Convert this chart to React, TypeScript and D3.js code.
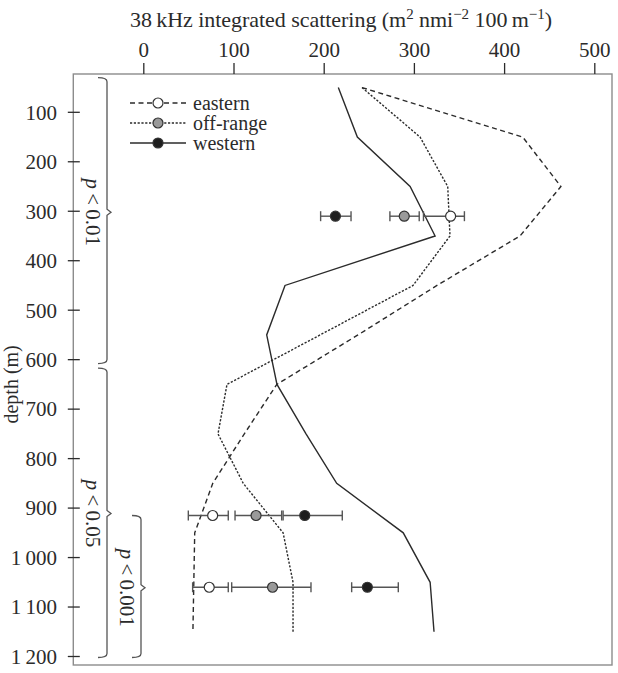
import React, { useRef, useEffect } from "react";
import * as d3 from "d3";

// depth bins (m) for the three profiles
const depths = [50, 150, 250, 350, 450, 550, 650, 750, 850, 950, 1050, 1150];
const eastern = [242.5, 420.6, 463, 417.6, 325.6, 238, 148, 112, 77, 57, 56, 55];
const offRange = [242.5, 306.8, 337.5, 340, 299, 196, 92.8, 82.8, 110.8, 155, 166, 166];
const western = [216.2, 237.3, 295.8, 323.5, 157.1, 136.8, 148.2, 180.4, 214.4, 288.2, 318, 322.3];

// means with error bars, one per depth band
const bandDepths = [310, 915, 1060];
const easternMean = [340.7, 76.9, 73.1];
const easternLow = [310.6, 49.9, 54.7];
const easternHigh = [356, 94.2, 94.2];
const offMean = [289.3, 125, 143.3];
const offLow = [273.4, 101.7, 98];
const offHigh = [305.9, 153.4, 185.9];
const westernMean = [213, 179, 248.4];
const westernLow = [196.6, 155, 231];
const westernHigh = [230.3, 220.6, 282.7];

const xTicks = [0, 100, 200, 300, 400, 500];
const yTicks = [100, 200, 300, 400, 500, 600, 700, 800, 900, 1000, 1100, 1200];

// significance braces (depth ranges)
const braceLabels = ["0.01", "0.05", "0.001"];
const braceFrom = [30, 617, 915];
const braceTo = [608, 1202, 1202];
const braceMid = [302, 911, 1061];

const seriesNames = ["eastern", "off-range", "western"];

const App: React.FC = () => {
  const svgRef = useRef<SVGSVGElement | null>(null);
  const width = 618;
  const height = 673;

  useEffect(() => {
    if (!svgRef.current) return;
    const svg = d3.select(svgRef.current);
    svg.selectAll("*").remove();

    const font = "'Liberation Serif', 'Times New Roman', serif";
    const ink = "#2b2b2b";
    const fs = "21px";

    const x = d3.scaleLinear().domain([0, 500]).range([143.3, 594.3]);
    const y = d3.scaleLinear().domain([100, 1200]).range([112.3, 656.5]);

    const frame = { left: 73.3, right: 612, top: 74, bottom: 665 };

    // frame
    svg
      .append("rect")
      .attr("x", frame.left)
      .attr("y", frame.top)
      .attr("width", frame.right - frame.left)
      .attr("height", frame.bottom - frame.top)
      .attr("fill", "none")
      .attr("stroke", "#8c8c8c")
      .attr("stroke-width", 1.4);

    // top axis
    const xAxis = svg
      .append("g")
      .attr("transform", `translate(0,${frame.top})`)
      .call(d3.axisTop(x).tickValues(xTicks).tickSize(11).tickPadding(6));
    xAxis.select(".domain").remove();
    xAxis.selectAll("line").attr("stroke", ink).attr("stroke-width", 1.3);
    xAxis
      .selectAll("text")
      .attr("fill", ink)
      .style("font-family", font)
      .style("font-size", fs);

    // left axis, ticks crossing the frame
    const yAxis = svg.append("g");
    yAxis
      .selectAll("line")
      .data(yTicks)
      .enter()
      .append("line")
      .attr("x1", frame.left - 5.5)
      .attr("x2", frame.left + 6.5)
      .attr("y1", (d) => y(d))
      .attr("y2", (d) => y(d))
      .attr("stroke", ink)
      .attr("stroke-width", 1.3);
    yAxis
      .selectAll("text")
      .data(yTicks)
      .enter()
      .append("text")
      .attr("x", 57)
      .attr("y", (d) => y(d))
      .attr("dy", "0.35em")
      .attr("text-anchor", "end")
      .attr("fill", ink)
      .style("font-family", font)
      .style("font-size", fs)
      .text((d) => (d >= 1000 ? `${Math.floor(d / 1000)}\u2009${String(d % 1000).padStart(3, "0")}` : String(d)));

    // axis titles
    const title = svg
      .append("text")
      .attr("x", 130)
      .attr("y", 27)
      .attr("textLength", 422)
      .attr("lengthAdjust", "spacing")
      .attr("fill", ink)
      .style("font-family", font)
      .style("font-size", "22px");
    title.append("tspan").text("38\u2009kHz integrated scattering (m");
    title.append("tspan").attr("dy", -8).style("font-size", "15px").text("2");
    title.append("tspan").attr("dy", 8).text(" nmi");
    title.append("tspan").attr("dy", -8).style("font-size", "15px").text("\u22122");
    title.append("tspan").attr("dy", 8).text(" 100\u2009m");
    title.append("tspan").attr("dy", -8).style("font-size", "15px").text("\u22121");
    title.append("tspan").attr("dy", 8).text(")");

    svg
      .append("text")
      .attr("transform", `translate(18,${y(650)}) rotate(-90)`)
      .attr("text-anchor", "middle")
      .attr("fill", ink)
      .style("font-family", font)
      .style("font-size", "20px")
      .text("depth (m)");

    // braces with p values
    const braceX = [107, 107, 141];
    const labelX = [93, 93, 127];
    braceLabels.forEach((lab, i) => {
      const bx = braceX[i];
      const y1 = y(braceFrom[i]);
      const y2 = y(braceTo[i]);
      const ym = y(braceMid[i]);
      const p = d3.path();
      p.moveTo(bx - 9, y1);
      p.quadraticCurveTo(bx, y1, bx, y1 + 4);
      p.lineTo(bx, ym - 3);
      p.lineTo(bx + 4, ym);
      p.lineTo(bx, ym + 3);
      p.lineTo(bx, y2 - 4);
      p.quadraticCurveTo(bx, y2, bx - 9, y2);
      svg
        .append("path")
        .attr("d", p.toString())
        .attr("fill", "none")
        .attr("stroke", "#555")
        .attr("stroke-width", 1.3);
      const t = svg
        .append("text")
        .attr("transform", `translate(${labelX[i]},${ym}) rotate(90)`)
        .attr("text-anchor", "middle")
        .attr("dy", "0.35em")
        .attr("fill", ink)
        .style("font-family", font)
        .style("font-size", fs);
      t.append("tspan").style("font-style", "italic").text("p");
      t.append("tspan").text(`\u2009<\u2009${lab}`);
    });

    // profile lines
    const dashes = ["5,3.5", "2.2,1.6", null];
    const series = [eastern, offRange, western];
    const line = d3
      .line<number>()
      .x((d) => x(d))
      .y((_, i) => y(depths[i]));
    series.forEach((s, k) => {
      svg
        .append("path")
        .datum(s)
        .attr("fill", "none")
        .attr("stroke", ink)
        .attr("stroke-width", 1.4)
        .attr("stroke-dasharray", dashes[k])
        .attr("d", line);
    });

    // error bars + means
    const fills = ["#ffffff", "#9a9a9a", "#1e1e1e"];
    const means = [easternMean, offMean, westernMean];
    const lows = [easternLow, offLow, westernLow];
    const highs = [easternHigh, offHigh, westernHigh];
    means.forEach((m, k) => {
      const g = svg.append("g");
      bandDepths.forEach((dep, i) => {
        const cy = y(dep);
        g.append("line")
          .attr("x1", x(lows[k][i]))
          .attr("x2", x(highs[k][i]))
          .attr("y1", cy)
          .attr("y2", cy)
          .attr("stroke", "#555")
          .attr("stroke-width", 1.4);
        [lows[k][i], highs[k][i]].forEach((v) => {
          g.append("line")
            .attr("x1", x(v))
            .attr("x2", x(v))
            .attr("y1", cy - 5)
            .attr("y2", cy + 5)
            .attr("stroke", "#555")
            .attr("stroke-width", 1.4);
        });
      });
    });
    means.forEach((m, k) => {
      svg
        .append("g")
        .selectAll("circle")
        .data(m)
        .enter()
        .append("circle")
        .attr("cx", (d) => x(d))
        .attr("cy", (_, i) => y(bandDepths[i]))
        .attr("r", 5)
        .attr("fill", fills[k])
        .attr("stroke", "#333")
        .attr("stroke-width", 1.2);
    });

    // legend
    const legend = svg.append("g");
    seriesNames.forEach((name, k) => {
      const ly = 103 + k * 20;
      legend
        .append("line")
        .attr("x1", 130)
        .attr("x2", 186)
        .attr("y1", ly)
        .attr("y2", ly)
        .attr("stroke", ink)
        .attr("stroke-width", 1.4)
        .attr("stroke-dasharray", dashes[k]);
      legend
        .append("circle")
        .attr("cx", 158)
        .attr("cy", ly)
        .attr("r", 5)
        .attr("fill", fills[k])
        .attr("stroke", "#333")
        .attr("stroke-width", 1.2);
      legend
        .append("text")
        .attr("x", 193)
        .attr("y", ly)
        .attr("dy", "0.33em")
        .attr("fill", ink)
        .style("font-family", font)
        .style("font-size", "20px")
        .text(name);
    });
  }, []);

  return (
    <svg
      ref={svgRef}
      width={width}
      height={height}
      style={{ position: "absolute", left: 0, top: 0, background: "#fff" }}
    ></svg>
  );
};

export default App;
